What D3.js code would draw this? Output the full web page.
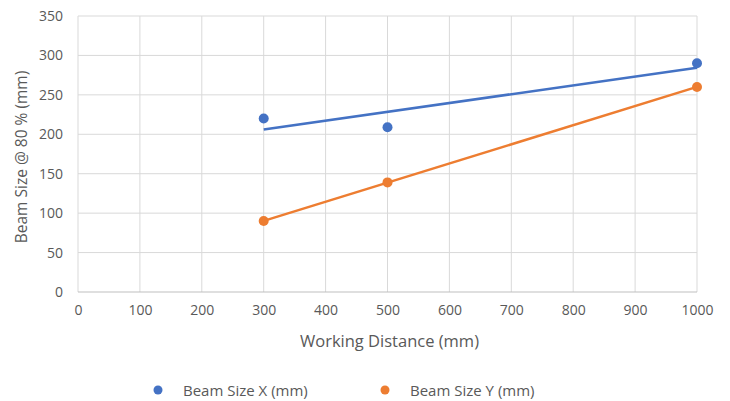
<!DOCTYPE html>
<html>
<head>
<meta charset="utf-8">
<script src="https://cdn.jsdelivr.net/npm/d3@7"></script>
<style>
  body { margin: 0; background: #fff; }
  text { font-family: "Open Sans", "Liberation Sans", sans-serif; fill: #595959; }
</style>
</head>
<body>
<svg id="chart" width="730" height="401"></svg>
<script>
// datos
var distancias = [300, 500, 1000];
var beamX = [220, 209, 290];
var beamY = [90, 139, 260];
var xTicks = [0, 100, 200, 300, 400, 500, 600, 700, 800, 900, 1000];
var yTicks = [0, 50, 100, 150, 200, 250, 300, 350];
var nombres = ["Beam Size X (mm)", "Beam Size Y (mm)"];
var colores = ["#4472C4", "#ED7D31"];

var svg = d3.select("#chart");
var margen = { left: 78, right: 33, top: 16, bottom: 109 };
var ancho = 730 - margen.left - margen.right;
var alto = 401 - margen.top - margen.bottom;

var x = d3.scaleLinear().domain([0, 1000]).range([0, ancho]);
var y = d3.scaleLinear().domain([0, 350]).range([alto, 0]);

var g = svg.append("g").attr("transform", "translate(" + margen.left + "," + margen.top + ")");

// rejilla
g.selectAll(".vgrid").data(xTicks).enter().append("line")
  .attr("x1", function(d){ return x(d); }).attr("x2", function(d){ return x(d); })
  .attr("y1", 0).attr("y2", alto)
  .style("stroke", "#D9D9D9").style("stroke-width", 1);
g.selectAll(".hgrid").data(yTicks).enter().append("line")
  .attr("x1", 0).attr("x2", ancho)
  .attr("y1", function(d){ return y(d); }).attr("y2", function(d){ return y(d); })
  .style("stroke", function(d){ return d == 0 ? "#BFBFBF" : "#D9D9D9"; })
  .style("stroke-width", 1);

// etiquetas de ejes
var ejeX = g.append("g").attr("transform", "translate(0," + alto + ")")
  .call(d3.axisBottom(x).tickValues(xTicks).tickFormat(d3.format("d")).tickSize(0).tickPadding(13));
var ejeY = g.append("g")
  .call(d3.axisLeft(y).tickValues(yTicks).tickFormat(d3.format("d")).tickSize(0).tickPadding(15));
[ejeX, ejeY].forEach(function(e){
  e.select(".domain").remove();
  e.selectAll("text").style("font-size", "14px").style("fill", "#595959")
    .style("font-family", "'Open Sans', sans-serif");
});

svg.append("text").attr("x", margen.left + ancho/2 + 2).attr("y", 347)
  .attr("text-anchor", "middle").style("font-size", "16.5px")
  .text("Working Distance (mm)");
svg.append("text")
  .attr("transform", "translate(27,157) rotate(-90)")
  .attr("text-anchor", "middle").style("font-size", "15.5px")
  .text("Beam Size @ 80 % (mm)");

// lineas de tendencia (regresion lineal)
var tendencia = function(xs, ys){
  var mx = d3.mean(xs), my = d3.mean(ys);
  var sxy = d3.sum(xs, function(v, i){ return (v - mx) * (ys[i] - my); });
  var sxx = d3.sum(xs, function(v){ return (v - mx) * (v - mx); });
  var m = sxy / sxx;
  return function(v){ return my + m * (v - mx); };
};

var series = [beamX, beamY];
series.forEach(function(valores, s){
  var f = tendencia(distancias, valores);
  var x0 = d3.min(distancias), x1 = d3.max(distancias);
  g.append("line")
    .attr("x1", x(x0)).attr("y1", y(f(x0)))
    .attr("x2", x(x1)).attr("y2", y(f(x1)))
    .style("stroke", colores[s]).style("stroke-width", 2.5);
});
series.forEach(function(valores, s){
  g.selectAll(".p" + s).data(distancias).enter().append("circle")
    .attr("cx", function(d){ return x(d); })
    .attr("cy", function(d, i){ return y(valores[i]); })
    .attr("r", 5)
    .style("fill", colores[s]);
});

// leyenda
var leyendaX = [158, 385];
nombres.forEach(function(n, i){
  svg.append("circle").attr("cx", leyendaX[i]).attr("cy", 390).attr("r", 4.5).style("fill", colores[i]);
  svg.append("text").attr("x", leyendaX[i] + 25).attr("y", 395.5)
    .style("font-size", "15px").text(n);
});
</script>
</body>
</html>
